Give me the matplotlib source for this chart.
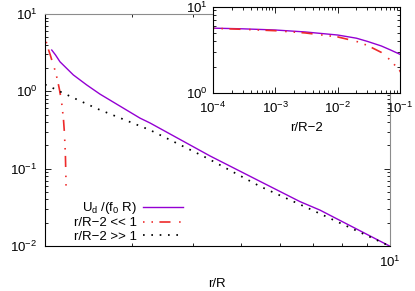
import matplotlib
matplotlib.use("Agg")
import matplotlib.pyplot as plt
import numpy as np

plt.rcParams['font.family'] = ['Liberation Sans', 'DejaVu Sans']
plt.rcParams['mathtext.fontset'] = 'custom'
plt.rcParams['mathtext.rm'] = 'Liberation Sans'
plt.rcParams['mathtext.it'] = 'Liberation Sans:italic'
plt.rcParams['mathtext.default'] = 'regular'
plt.rcParams['lines.scale_dashes'] = False

# ---------------- data ----------------
# main panel: full solution U_d/(f0 R) vs r/R
main_r_purple = [2.064, 2.101, 2.145, 2.283, 2.430, 2.586, 3.118, 3.266, 4.324, 5.462, 6.582, 7.228, 10.0]
main_u_purple = [3.42, 2.95, 2.41, 1.63, 1.21, 0.92, 0.45, 0.39, 0.146, 0.0685, 0.0375, 0.0291, 0.0100]

# near-contact asymptote (r/R-2 << 1), as function of d = r/R - 2
red_d = [1e-4, 3e-4, 1e-3, 3e-3, 0.01, 0.02, 0.03, 0.05, 0.07, 0.10, 0.12, 0.14, 0.16, 0.18, 0.19, 0.20, 0.205, 0.207]
red_u = [5.60, 5.45, 5.25, 4.95, 4.45, 3.95, 3.55, 2.95, 2.40, 1.80, 1.40, 1.05, 0.75, 0.44, 0.29, 0.15, 0.08, 0.055]

# far-field asymptote (r/R-2 >> 1)
black_r = [2.0, 2.019, 2.155, 2.312, 2.561, 3.266, 4.264, 5.462, 6.833, 10.0]
black_u = [1.22, 1.20, 0.98, 0.795, 0.59, 0.316, 0.137, 0.059, 0.0309, 0.0100]

# inset: full solution vs r/R-2
ins_d = [1e-4, 3e-4, 1e-3, 3e-3, 0.01, 0.02, 0.03, 0.05, 0.07, 0.10]
ins_u = [5.62, 5.52, 5.35, 5.08, 4.68, 4.30, 3.95, 3.50, 3.15, 2.80]

labels = [r'U$_d$ /(f$_0$ R)', 'r/R\u22122 << 1', 'r/R\u22122 >> 1']
main_yticks = [0.01, 0.1, 1, 10]
main_ytick_labels = ['$10^{-2}$', '$10^{-1}$', '$10^{0}$', '$10^{1}$']
ins_xticks = [1e-4, 1e-3, 1e-2, 1e-1]
ins_xtick_labels = ['$10^{-4}$', '$10^{-3}$', '$10^{-2}$', '$10^{-1}$']
ins_yticks = [1, 10]
ins_ytick_labels = ['$10^{0}$', '$10^{1}$']

# ---------------- style ----------------
PURPLE = '#9400d3'
RED = '#ee2a2a'
BLACK = '#000000'
red_ls = (0, (1.1, 5.0, 1.1, 4.6, 8.0, 6.2))
blk_ls = (0, (1.2, 4.8))
FS = 9.5

W, H = 415, 291
fig = plt.figure(figsize=(W / 100, H / 100), dpi=100)

ax = fig.add_axes([45 / W, 1 - 246 / H, 344.5 / W, 232 / H])
ax.set_xscale('log')
ax.set_yscale('log')

ax.plot(main_r_purple, main_u_purple, color=PURPLE, lw=1.0, label=labels[0])
ax.plot([2 + d for d in red_d], red_u, color=RED, lw=1.2, linestyle=red_ls, label=labels[1])
ax.plot(black_r, black_u, color=BLACK, lw=1.25, linestyle=blk_ls, label=labels[2])

ax.set_xlim(2, 10)
ax.set_ylim(0.01, 10)
ax.set_xticks([10], labels=['$10^{1}$'])
ax.set_xticks([3, 4, 5, 6, 7, 8, 9], minor=True)
ax.xaxis.set_minor_formatter(matplotlib.ticker.NullFormatter())
ax.set_yticks(main_yticks, labels=main_ytick_labels)
ax.yaxis.set_minor_locator(matplotlib.ticker.LogLocator(base=10, subs=np.arange(2, 10)))
ax.yaxis.set_minor_formatter(matplotlib.ticker.NullFormatter())
ax.tick_params(which='both', direction='in', top=True, right=True, labelsize=FS, width=0.6)
ax.tick_params(which='major', length=4.5)
ax.tick_params(which='minor', length=2.2)
ax.tick_params(axis='y', pad=5.5)
ax.tick_params(axis='x', pad=6.5)
for s in ['left', 'bottom']:
    ax.spines[s].set_linewidth(0.8)
    ax.spines[s].set_color('black')
for s in ['top', 'right']:
    ax.spines[s].set_linewidth(0.8)
    ax.spines[s].set_color('#8c8c8c')
ax.set_xlabel('r/R', fontsize=FS, labelpad=5.5)

leg = ax.legend(loc='center right', bbox_to_anchor=(183 / W, 1 - 221.5 / H),
                bbox_transform=fig.transFigure, frameon=False, markerfirst=False,
                handlelength=3.0, handletextpad=0.45, borderpad=0, borderaxespad=0,
                labelspacing=0.08, fontsize=FS)

# ---------------- inset ----------------
ins = fig.add_axes([213 / W, 1 - 93 / H, 187 / W, 86.5 / H])
ins.set_xscale('log')
ins.set_yscale('log')
ins.plot(ins_d, ins_u, color=PURPLE, lw=1.0)
ins.plot(red_d, red_u, color=RED, lw=1.2, linestyle=red_ls)
ins.set_xlim(1e-4, 1e-1)
ins.set_ylim(1, 10)
ins.set_xticks(ins_xticks, labels=ins_xtick_labels)
ins.set_yticks(ins_yticks, labels=ins_ytick_labels)
ins.xaxis.set_minor_locator(matplotlib.ticker.LogLocator(base=10, subs=np.arange(2, 10)))
ins.yaxis.set_minor_locator(matplotlib.ticker.LogLocator(base=10, subs=np.arange(2, 10)))
ins.xaxis.set_minor_formatter(matplotlib.ticker.NullFormatter())
ins.yaxis.set_minor_formatter(matplotlib.ticker.NullFormatter())
ins.tick_params(which='both', direction='in', top=True, right=True, labelsize=FS, width=0.6)
ins.tick_params(which='major', length=4.5)
ins.tick_params(which='minor', length=2.2)
ins.tick_params(axis='x', pad=5.5)
ins.tick_params(axis='y', pad=4)
for s in ins.spines.values():
    s.set_linewidth(0.8)
ins.set_xlabel('r/R\u22122', fontsize=FS, labelpad=4.5)

fig.savefig('out.png', dpi=100)
